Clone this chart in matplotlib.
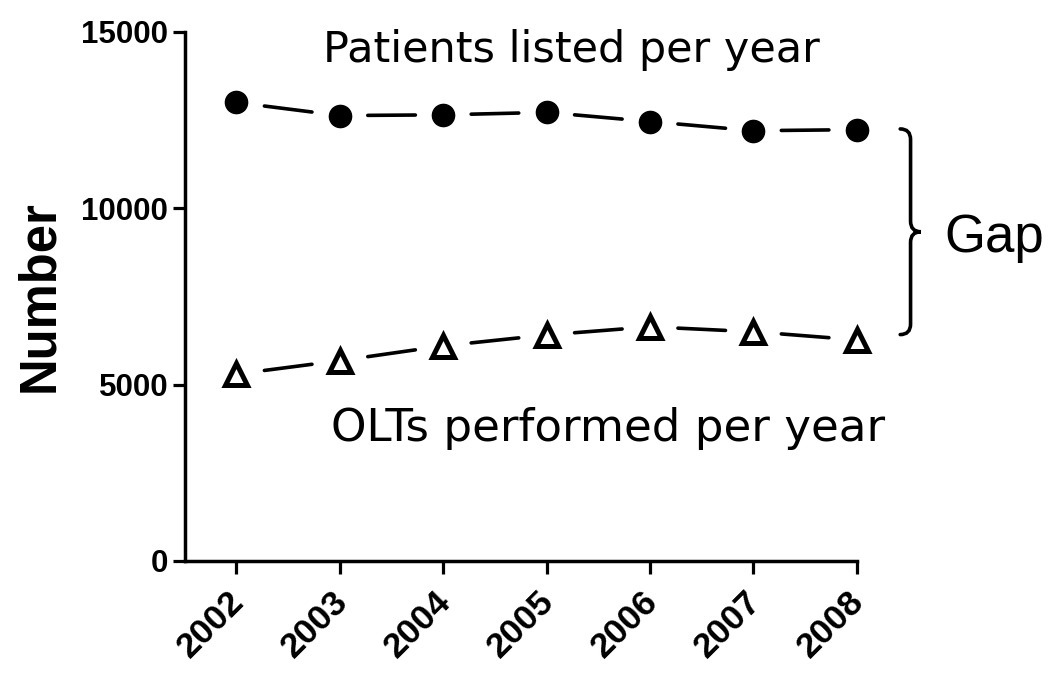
import matplotlib
matplotlib.use("Agg")
import matplotlib.pyplot as plt
from matplotlib import font_manager as fm
from matplotlib.path import Path
from matplotlib.patches import PathPatch

years = [2002, 2003, 2004, 2005, 2006, 2007, 2008]
listed = [13000, 12630, 12650, 12720, 12460, 12200, 12230]
olts = [5300, 5680, 6100, 6410, 6640, 6500, 6270]

## procura o arquivo Liberation Sans Bold (sem o Narrow)
bold_file = None
for f in fm.fontManager.ttflist:
    if f.name == "Liberation Sans" and f.weight in (700, "bold") and f.style == "normal" \
            and "Narrow" not in f.fname:
        bold_file = f.fname
        break
if bold_file:
    bold = fm.FontProperties(fname=bold_file)
else:
    bold = fm.FontProperties(family="DejaVu Sans", weight="bold")

fig = plt.figure(figsize=(10.5, 6.8), dpi=100)
ax = fig.add_axes([0.176, 0.175, 0.64, 0.778])


## linhas tracejadas: um traco entre cada par de pontos, sem encostar nos marcadores
def seg_line(xs, ys):
    for i in range(len(xs) - 1):
        dx = xs[i + 1] - xs[i]
        dy = ys[i + 1] - ys[i]
        ax.plot([xs[i] + 0.27 * dx, xs[i] + 0.73 * dx],
                [ys[i] + 0.27 * dy, ys[i] + 0.73 * dy],
                color="black", lw=2.6, solid_capstyle="round", zorder=2)


seg_line(years, listed)
seg_line(years, olts)

ax.plot(years, listed, ls="none", marker="o", ms=16, color="black", zorder=3,
        clip_on=False)
ax.plot(years, olts, ls="none", marker="^", ms=16, mfc="white", mec="black",
        mew=3.6, zorder=3, clip_on=False)

ax.set_xlim(2001.5, 2008)
ax.set_ylim(0, 15000)
ax.set_yticks([0, 5000, 10000, 15000])
ax.set_xticks(years)

for s in ["top", "right"]:
    ax.spines[s].set_visible(False)
for s in ["left", "bottom"]:
    ax.spines[s].set_linewidth(2.5)

ax.tick_params(length=9, width=2.3)
ax.tick_params(axis="y", pad=3)
ax.tick_params(axis="x", pad=15)
for lab in ax.get_yticklabels():
    lab.set_fontproperties(bold)
    lab.set_fontsize(22.5)
ax.set_xticklabels([str(y) for y in years], rotation=45, ha="right",
                   va="center_baseline", rotation_mode="anchor")
for lab in ax.get_xticklabels():
    lab.set_fontproperties(bold)
    lab.set_fontsize(25.5)

ax.set_ylabel("Number", fontproperties=bold, fontsize=36.5)
ax.yaxis.set_label_coords(-0.179, 0.5)

ax.text(2005.24, 14490, "Patients listed per year", fontsize=31,
        family="DejaVu Sans", ha="center", va="center")
ax.text(2005.59, 3770, "OLTs performed per year", fontsize=32.5,
        family="DejaVu Sans", ha="center", va="center")
ax.text(2009.33, 9150, "Gap", fontsize=38, family="Liberation Sans",
        ha="center", va="center", clip_on=False)

## chave "}" desenhada a mao
x0, x1, x2 = 2008.42, 2008.52, 2008.62
ytop, ybot = 12250, 6420
ymid = (ytop + ybot) / 2
r = 300
verts = [(x0, ytop), (x1, ytop), (x1, ytop - r),
         (x1, ymid + r), (x1, ymid), (x2, ymid),
         (x1, ymid), (x1, ymid - r),
         (x1, ybot + r), (x1, ybot), (x0, ybot)]
codes = [Path.MOVETO, Path.CURVE3, Path.CURVE3,
         Path.LINETO, Path.CURVE3, Path.CURVE3,
         Path.CURVE3, Path.CURVE3,
         Path.LINETO, Path.CURVE3, Path.CURVE3]
brace = PathPatch(Path(verts, codes), fill=False, lw=2.6, edgecolor="black",
                  clip_on=False, capstyle="round")
ax.add_patch(brace)

fig.savefig("out.png", dpi=100)
